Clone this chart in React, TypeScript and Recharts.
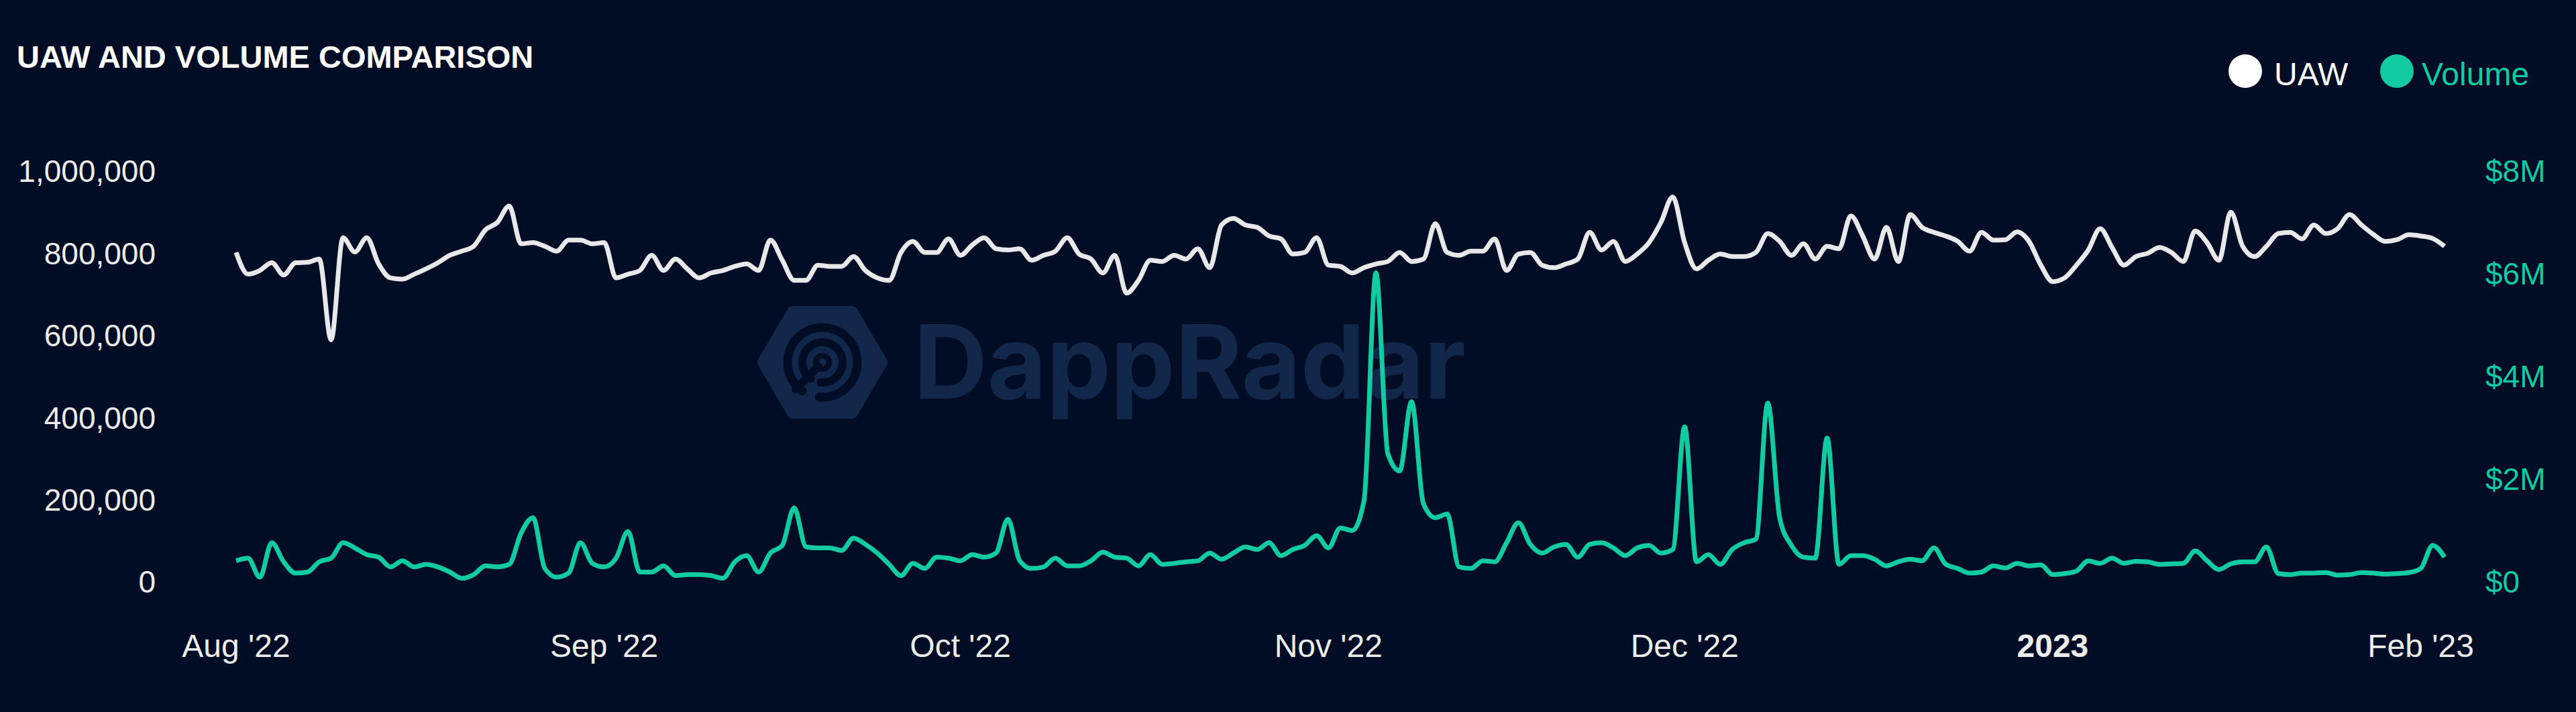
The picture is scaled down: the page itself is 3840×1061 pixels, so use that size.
import React from 'react'
import { LineChart, Line, XAxis, YAxis } from 'recharts'

// daily series, Aug 1 2022 onward
const START = Date.UTC(2022, 7, 1)
const DAY = 86400000
const END = Date.UTC(2023, 1, 3)

// unique active wallets, thousands
const uawK = [
  802, 749, 758, 777, 747, 777, 778, 786, 589, 838, 803, 838, 774, 740, 737, 749, 762, 777, 795, 805,
  817, 857, 875, 915, 823, 826, 817, 805, 832, 832, 823, 826, 740, 749, 758, 795, 758, 786, 762, 740,
  752, 758, 768, 774, 758, 832, 783, 734, 734, 771, 768, 768, 792, 758, 740, 734, 802, 829, 802, 802,
  835, 795, 820, 838, 811, 808, 811, 783, 795, 805, 838, 798, 786, 752, 795, 703, 734, 783, 780, 795,
  786, 811, 765, 869, 885, 869, 863, 842, 835, 798, 802, 838, 771, 768, 752, 765, 774, 780, 802, 780,
  786, 872, 802, 795, 805, 805, 835, 758, 798, 802, 771, 765, 774, 786, 851, 808, 829, 780, 798, 826,
  875, 937, 826, 762, 783, 798, 792, 792, 802, 848, 829, 795, 823, 786, 817, 811, 891, 842, 786, 863,
  780, 894, 863, 851, 842, 829, 805, 851, 832, 833, 852, 829, 771, 731, 740, 771, 808, 860, 814, 771,
  792, 800, 814, 802, 780, 854, 826, 783, 900, 817, 792, 817, 848, 851, 835, 869, 848, 860, 894, 869,
  846, 829, 833, 845, 842, 836, 817,
]

// volume, $M
const volumeM = [
  0.41, 0.46, 0.09, 0.76, 0.39, 0.17, 0.19, 0.39, 0.46, 0.76, 0.66, 0.53, 0.48, 0.29, 0.41, 0.29, 0.34, 0.29, 0.19, 0.07,
  0.14, 0.31, 0.29, 0.34, 0.95, 1.25, 0.26, 0.09, 0.17, 0.76, 0.36, 0.29, 0.46, 0.98, 0.19, 0.19, 0.31, 0.12, 0.14, 0.14,
  0.12, 0.07, 0.39, 0.51, 0.19, 0.56, 0.71, 1.44, 0.68, 0.66, 0.66, 0.61, 0.85, 0.73, 0.56, 0.34, 0.12, 0.36, 0.26, 0.48,
  0.46, 0.41, 0.53, 0.48, 0.56, 1.22, 0.41, 0.26, 0.29, 0.46, 0.31, 0.31, 0.41, 0.58, 0.48, 0.46, 0.31, 0.53, 0.34, 0.36,
  0.39, 0.41, 0.56, 0.44, 0.56, 0.68, 0.63, 0.76, 0.51, 0.63, 0.71, 0.9, 0.66, 1.05, 1.0, 1.59, 6.02, 2.5, 2.16, 3.51,
  1.52, 1.25, 1.32, 0.29, 0.26, 0.41, 0.39, 0.76, 1.15, 0.73, 0.56, 0.68, 0.73, 0.48, 0.73, 0.76, 0.66, 0.51, 0.66, 0.71,
  0.56, 0.63, 3.02, 0.39, 0.53, 0.34, 0.63, 0.76, 0.83, 3.48, 1.25, 0.71, 0.48, 0.46, 2.8, 0.34, 0.51, 0.51, 0.44, 0.31,
  0.39, 0.44, 0.41, 0.66, 0.34, 0.26, 0.17, 0.19, 0.31, 0.27, 0.36, 0.31, 0.33, 0.14, 0.16, 0.21, 0.41, 0.36, 0.46, 0.36,
  0.4, 0.39, 0.34, 0.35, 0.36, 0.6, 0.41, 0.24, 0.35, 0.39, 0.39, 0.68, 0.16, 0.14, 0.17, 0.17, 0.18, 0.13, 0.14, 0.18,
  0.17, 0.15, 0.16, 0.18, 0.26, 0.71, 0.48,
]

const monthTicks = [
  Date.UTC(2022, 7, 1),
  Date.UTC(2022, 8, 1),
  Date.UTC(2022, 9, 1),
  Date.UTC(2022, 10, 1),
  Date.UTC(2022, 11, 1),
  Date.UTC(2023, 0, 1),
  Date.UTC(2023, 1, 1),
]
const monthLabels = ["Aug '22", "Sep '22", "Oct '22", "Nov '22", "Dec '22", '2023', "Feb '23"]

const uawTicks = [0, 200000, 400000, 600000, 800000, 1000000]
const volumeTicks = [0, 2000000, 4000000, 6000000, 8000000]

const BG = '#010d24'
const WHITE = '#e8e8ea'
const GREEN = '#12cba2'
const MARK = '#12284a'
const FONT = '"Liberation Sans", Arial, Helvetica, sans-serif'

const data = uawK.map((v, i) => ({
  t: START + i * DAY,
  uaw: v * 1000,
  volume: volumeM[i] * 1000000,
}))

function MonthTick(props: any) {
  const { x, y, payload } = props
  const idx = monthTicks.indexOf(payload.value)
  const label = monthLabels[idx] ?? ''
  return (
    <text
      x={x}
      y={y}
      dy="0.71em"
      textAnchor="middle"
      fill="#ececec"
      fontSize={48}
      fontFamily={FONT}
      fontWeight={label === '2023' ? 700 : 400}
    >
      {label}
    </text>
  )
}

function Watermark() {
  const cx = 1226
  const cy = 540
  const w = 176
  const h = 150
  const hex = [
    [cx - w / 2, cy],
    [cx - w / 4, cy - h / 2],
    [cx + w / 4, cy - h / 2],
    [cx + w / 2, cy],
    [cx + w / 4, cy + h / 2],
    [cx - w / 4, cy + h / 2],
  ]
    .map((p) => p.join(','))
    .join(' ')
  const arc = (r: number) => {
    const a0 = (125 * Math.PI) / 180
    const a1 = (95 * Math.PI) / 180
    return `M ${cx + r * Math.cos(a0)} ${cy + r * Math.sin(a0)} A ${r} ${r} 0 1 1 ${cx + r * Math.cos(a1)} ${cy + r * Math.sin(a1)}`
  }
  return (
    <g>
      <polygon points={hex} fill={MARK} stroke={MARK} strokeWidth={18} strokeLinejoin="round" />
      <path d={arc(52)} fill="none" stroke={BG} strokeWidth={13} strokeLinecap="round" />
      <path d={arc(30)} fill="none" stroke={BG} strokeWidth={12} strokeLinecap="round" />
      <circle cx={cx} cy={cy} r={10} fill="none" stroke={BG} strokeWidth={8} />
      <line x1={cx - 6} y1={cy + 6} x2={cx - 40} y2={cy + 40} stroke={BG} strokeWidth={12} strokeLinecap="round" />
      <text x={1362} y={594} fill={MARK} fontSize={152} fontWeight={700} fontFamily="Inter, Lato, sans-serif">
        DappRadar
      </text>
    </g>
  )
}

export default function App() {
  return (
    <div style={{ position: 'relative', width: 3840, height: 1061, background: BG, overflow: 'hidden' }}>
      <style>{'body{margin:0}'}</style>
      <svg width={3840} height={1061} style={{ position: 'absolute', left: 0, top: 0 }}>
        <Watermark />
        <text x={25} y={101} fill="#ffffff" fontSize={47} fontWeight={700} fontFamily={FONT}>
          UAW AND VOLUME COMPARISON
        </text>
        <circle cx={3347} cy={106} r={25} fill="#ffffff" />
        <text x={3390} y={127} fill="#ffffff" fontSize={48} fontFamily={FONT}>
          UAW
        </text>
        <circle cx={3573} cy={106} r={25} fill={GREEN} />
        <text x={3610} y={127} fill={GREEN} fontSize={48} fontFamily={FONT}>
          Volume
        </text>
      </svg>
      <div style={{ position: 'absolute', left: 0, top: 0 }}>
        <LineChart width={3840} height={1061} data={data} margin={{ top: 255, right: 0, bottom: 0, left: 0 }}>
          <XAxis
            dataKey="t"
            type="number"
            domain={[START, END]}
            ticks={monthTicks}
            tick={<MonthTick />}
            axisLine={false}
            tickLine={false}
            tickSize={0}
            tickMargin={78}
            height={194}
            interval={0}
          />
          <YAxis
            yAxisId="uaw"
            orientation="left"
            domain={[0, 1000000]}
            ticks={uawTicks}
            tickFormatter={(v: number) => v.toLocaleString('en-US')}
            tick={{ fill: '#ececec', fontSize: 46, fontFamily: FONT }}
            axisLine={false}
            tickLine={false}
            tickSize={0}
            tickMargin={120}
            width={352}
            interval={0}
          />
          <YAxis
            yAxisId="volume"
            orientation="right"
            domain={[0, 8000000]}
            ticks={volumeTicks}
            tickFormatter={(v: number) => (v === 0 ? '$0' : `$${v / 1000000}M`)}
            tick={{ fill: GREEN, fontSize: 46, fontFamily: FONT, textAnchor: 'start' }}
            axisLine={false}
            tickLine={false}
            tickSize={0}
            tickMargin={61}
            width={196}
            interval={0}
          />
          <Line
            yAxisId="volume"
            type="monotone"
            dataKey="volume"
            stroke={GREEN}
            strokeWidth={7}
            strokeLinejoin="round"
            dot={false}
            activeDot={false}
            isAnimationActive={false}
          />
          <Line
            yAxisId="uaw"
            type="monotone"
            dataKey="uaw"
            stroke={WHITE}
            strokeWidth={7}
            strokeLinejoin="round"
            dot={false}
            activeDot={false}
            isAnimationActive={false}
          />
        </LineChart>
      </div>
    </div>
  )
}
